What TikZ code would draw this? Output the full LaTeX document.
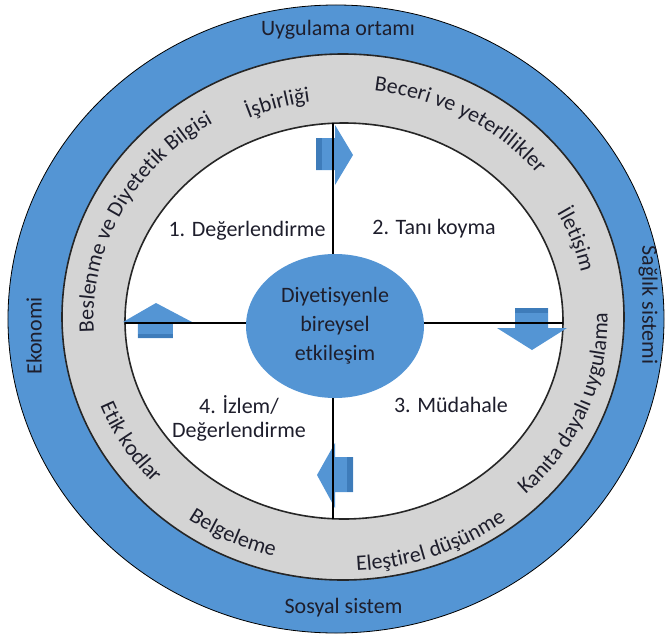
\documentclass[tikz,border=0pt]{standalone}
\usepackage{fontspec}
\setmainfont{Carlito}[Ligatures={NoCommon}]
\usetikzlibrary{shapes.geometric,decorations.text}

\definecolor{ringblue}{RGB}{84,149,212}
\definecolor{shadeblue}{RGB}{62,124,186}
\definecolor{ringgrey}{RGB}{212,212,212}
\definecolor{inkdark}{RGB}{30,30,44}
\newcommand\ringfont{\fontsize{22}{26}\selectfont\color{inkdark}}

\tikzset{
  blueband/.style={fill=ringblue, draw=black, line width=0.8},
  greyband/.style={fill=ringgrey, draw=black!85, line width=1.6},
  whitearea/.style={fill=white, draw=black!85, line width=1.6},
  crossline/.style={draw=black, line width=2.4},
  blockarrow/.style={fill=ringblue},
  arrowshade/.style={fill=shadeblue},
  core/.style={ellipse, fill=ringblue, minimum width=178, minimum height=144,
    inner sep=0pt, align=center, text=inkdark, font=\fontsize{22}{29}\selectfont},
  phase/.style={align=center, text=inkdark, inner sep=1pt, font=\fontsize{22}{24}\selectfont},
  outerlabel/.style={text=inkdark, inner sep=1pt, font=\fontsize{22}{26}\selectfont},
  ringtext/.style={decorate, decoration={text along path, text align=center,
    text={|\ringfont|#1}}}
}

\begin{document}
\begin{tikzpicture}[x=1pt,y=1pt]
\useasboundingbox (-344,-314) rectangle (324,321);
\fill [white] (-344,-314) rectangle (324,321);
\draw [blueband] (-8,2) ellipse [x radius=328, y radius=314];
\draw [greyband] (-1,4) ellipse [x radius=281, y radius=263];
\draw [whitearea] (0,0) ellipse [x radius=219, y radius=198];
\coordinate (c) at (-0.5,2);

\fill [blockarrow] (-28,183) -- (-9,183) -- (-9,196) -- (9,166) -- (-9,136) -- (-9,151) -- (-28,151) -- cycle;
\fill [arrowshade] (-28,183) rectangle (-22,151);
\fill [blockarrow] (9,-136) -- (-9,-136) -- (-9,-122) -- (-27,-154) -- (-9,-187) -- (-9,-171) -- (9,-171) -- cycle;
\fill [arrowshade] (3,-136) rectangle (9,-171);
\fill [blockarrow] (-206,-17) -- (-206,-1) -- (-221,-1) -- (-188,18) -- (-152,-1) -- (-171,-1) -- (-171,-17) -- cycle;
\fill [arrowshade] (-206,-17) rectangle (-171,-13);
\fill [blockarrow] (171,13) -- (171,-7) -- (153,-7) -- (188,-29) -- (223,-7) -- (204,-7) -- (204,13) -- cycle;
\fill [arrowshade] (171,13) rectangle (204,8);

\coordinate (crosstop) at (-11,197.7);
\coordinate (crossbottom) at (-11,-197.7);
\coordinate (crossleft) at (-219,-2);
\coordinate (crossright) at (219,-2);
\draw [crossline] (crosstop) -- (crossbottom);
\draw [crossline] (crossleft) -- (crossright);

\node [core] (core) at (-9,-5) {Diyetisyenle\\bireysel\\etkileşim};

\node [phase] (assess) at (-97,90) {1. Değerlendirme};
\node [phase] (diagnose) at (90,92) {2. Tanı koyma};
\node [phase] (intervene) at (107,-84) {3. Müdahale};
\node [phase] (monitor) at (-105,-97) {4. İzlem/\\Değerlendirme};

\node [outerlabel] (setting) at (-6,291) {Uygulama ortamı};
\node [outerlabel] (social) at (-0.5,-287) {Sosyal sistem};
\node [outerlabel, rotate=90] (economy) at (-310,-15) {Ekonomi};
\node [outerlabel, rotate=-90] (health) at (304,16) {Sağlık sistemi};

\path [ringtext={İşbirliği}] (c) ++(136:238 and 219) arc [start angle=136, end angle=76, x radius=238, y radius=219];
\path [ringtext={Beceri ve yeterlilikler}] (c) ++(100.5:250 and 230) arc [start angle=100.5, end angle=20.5, x radius=250, y radius=230];
\path [ringtext={İletişim}] (c) ++(45:243 and 223) arc [start angle=45, end angle=-5, x radius=243, y radius=223];
\path [ringtext={Beslenme ve Diyetetik Bilgisi}] (c) ++(203:250 and 230) arc [start angle=203, end angle=103, x radius=250, y radius=230];
\path [ringtext={Kanıta dayalı uygulama}] (c) ++(-63:264 and 243) arc [start angle=-63, end angle=19, x radius=264, y radius=243];
\path [ringtext={Eleştirel düşünme}] (c) ++(-100:272 and 252) arc [start angle=-100, end angle=-40, x radius=272, y radius=252];
\path [ringtext={Belgeleme}] (c) ++(219.5:268 and 246) arc [start angle=219.5, end angle=269.5, x radius=268, y radius=246];
\path [ringtext={Etik kodlar}] (c) ++(190:261 and 240) arc [start angle=190, end angle=234, x radius=261, y radius=240];
\end{tikzpicture}
\end{document}
